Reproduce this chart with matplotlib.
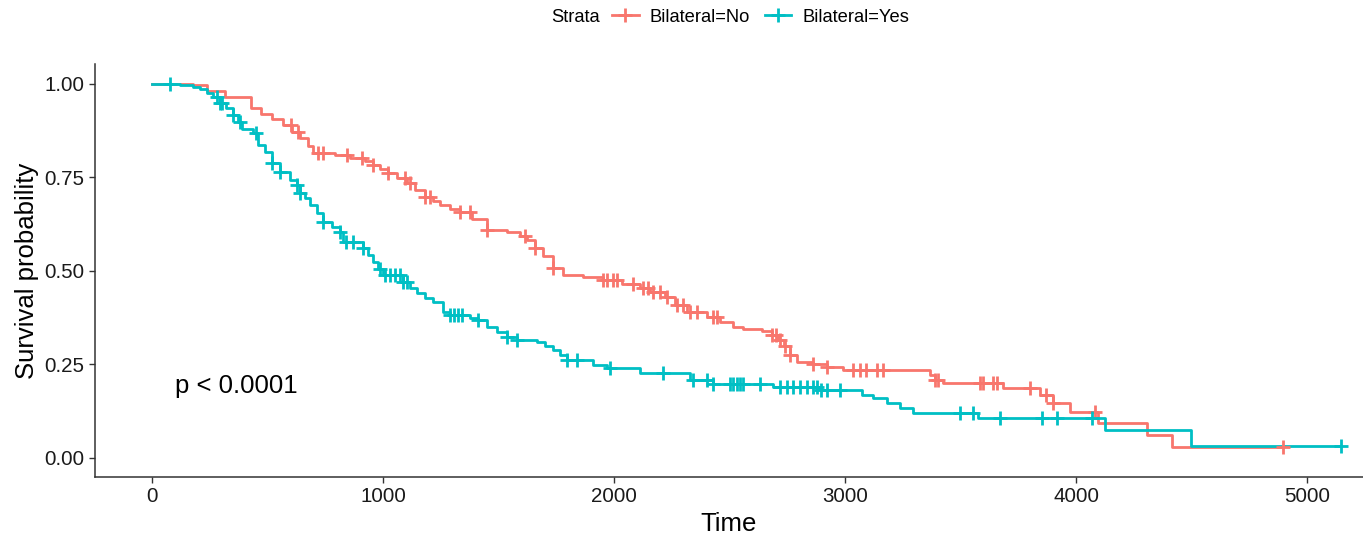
import numpy as np
import matplotlib
matplotlib.use('Agg')
import matplotlib.pyplot as plt
from matplotlib.lines import Line2D

plt.rcParams['font.family'] = ['Liberation Sans', 'DejaVu Sans']

# ===========================
# DADOS
# ===========================
no_times = [0, 177, 238, 316, 429, 472, 519, 567, 606, 641, 675, 697, 792, 857, 922,
            957, 987, 1022, 1061, 1104, 1139, 1182, 1216, 1247, 1290, 1333, 1385, 1450,
            1537, 1593, 1623, 1658, 1693, 1736, 1779, 1866, 1952, 2035, 2113, 2156, 2221,
            2264, 2316, 2403, 2459, 2515, 2558, 2641, 2684, 2710, 2736, 2762, 2792, 2861,
            2922, 2991, 3368, 3390, 3424, 3684, 3844, 3900, 3974, 4095, 4307, 4416, 4896]
no_surv = [1.0, 0.997, 0.982, 0.965, 0.936, 0.920, 0.906, 0.890, 0.872, 0.856, 0.834, 0.816,
           0.810, 0.802, 0.794, 0.783, 0.773, 0.762, 0.749, 0.735, 0.717, 0.698, 0.687,
           0.676, 0.666, 0.658, 0.639, 0.610, 0.604, 0.594, 0.583, 0.561, 0.540, 0.508,
           0.489, 0.484, 0.476, 0.465, 0.455, 0.444, 0.430, 0.409, 0.390, 0.377, 0.364,
           0.350, 0.345, 0.340, 0.329, 0.316, 0.299, 0.275, 0.257, 0.251, 0.243, 0.235,
           0.222, 0.209, 0.201, 0.187, 0.168, 0.147, 0.123, 0.094, 0.061, 0.029, 0.029]
no_censor = [602, 632, 719, 740, 844, 909, 957, 1022, 1095, 1117, 1182, 1203, 1333, 1377,
             1450, 1615, 1658, 1736, 1952, 1970, 1996, 2013, 2082, 2126, 2147, 2169, 2199,
             2229, 2273, 2299, 2329, 2359, 2429, 2446, 2684, 2701, 2719, 2740, 2762, 2861,
             2922, 3035, 3065, 3091, 3139, 3165, 3390, 3403, 3584, 3597, 3641, 3658, 3801,
             3870, 3900, 4082, 4896]

yes_times = [0, 121, 177, 208, 238, 264, 294, 320, 351, 372, 390, 437, 459, 489, 519, 554,
             597, 628, 641, 662, 684, 714, 740, 779, 814, 827, 913, 935, 957, 978, 1000,
             1087, 1117, 1147, 1182, 1216, 1260, 1290, 1377, 1411, 1450, 1494, 1537, 1580,
             1667, 1701, 1736, 1766, 1797, 1909, 1970, 2113, 2329, 2429, 2688, 2892, 3074,
             3121, 3182, 3238, 3294, 3576, 4126, 4498, 5147]
yes_surv = [1.0, 0.997, 0.992, 0.987, 0.976, 0.965, 0.949, 0.936, 0.917, 0.898, 0.880,
            0.869, 0.837, 0.818, 0.789, 0.765, 0.743, 0.730, 0.709, 0.695, 0.676, 0.655,
            0.631, 0.618, 0.604, 0.578, 0.561, 0.543, 0.524, 0.505, 0.489, 0.471, 0.455,
            0.441, 0.428, 0.417, 0.390, 0.382, 0.374, 0.369, 0.350, 0.337, 0.324, 0.316,
            0.310, 0.299, 0.289, 0.275, 0.262, 0.249, 0.241, 0.227, 0.209, 0.198, 0.190,
            0.182, 0.168, 0.160, 0.147, 0.134, 0.120, 0.107, 0.075, 0.032, 0.032]
yes_censor = [78, 281, 294, 303, 351, 381, 450, 519, 554, 628, 641, 740, 814, 840, 870, 913,
              987, 1009, 1030, 1052, 1074, 1087, 1104, 1290, 1307, 1325, 1342, 1411, 1537,
              1580, 1797, 1840, 1983, 2212, 2342, 2403, 2429, 2502, 2515, 2532, 2545, 2558,
              2632, 2719, 2749, 2775, 2805, 2835, 2861, 2879, 2896, 2922, 2978, 3498, 3554,
              3671, 3853, 3918, 4069, 5147]

COR_NO = '#F8766D'
COR_YES = '#00BFC4'
LW = 2.0


def valor_em(times, surv, t):
    idx = np.searchsorted(times, t, side='right') - 1
    return np.asarray(surv)[idx]


fig = plt.figure(figsize=(13.63, 5.45), dpi=100)
ax = fig.add_axes([95 / 1363, 68 / 545, 1 - 95 / 1363, 413 / 545])

for times, surv, cens, cor in [(no_times, no_surv, no_censor, COR_NO),
                               (yes_times, yes_surv, yes_censor, COR_YES)]:
    ax.step(times, surv, where='post', color=cor, lw=LW, zorder=3)
    ax.plot(cens, valor_em(times, surv, cens), ls='none', marker='+', ms=10, mew=2.0,
            color=cor, zorder=4)

ax.text(100, 0.193, 'p < 0.0001', fontsize=18.5, ha='left', va='center', color='black')

ax.set_xlim(-247, 5242)
ax.set_ylim(-0.051, 1.053)
ax.set_xticks([0, 1000, 2000, 3000, 4000, 5000])
ax.set_yticks([0, 0.25, 0.5, 0.75, 1.0])
ax.set_yticklabels(['0.00', '0.25', '0.50', '0.75', '1.00'])
ax.tick_params(labelsize=14.8, colors='#333333', labelcolor='#1a1a1a', length=4, width=1)
ax.set_xlabel('Time', fontsize=18.5, labelpad=4)
ax.set_ylabel('Survival probability', fontsize=18.5, labelpad=4)
for lado in ['top', 'right']:
    ax.spines[lado].set_visible(False)
for lado in ['left', 'bottom']:
    ax.spines[lado].set_color('#333333')
    ax.spines[lado].set_linewidth(1.1)

# legenda no topo
fig.text(551 / 1363, 1 - 17 / 545, 'Strata', fontsize=13.2, ha='left', va='center')
handles = [Line2D([], [], color=COR_NO, lw=LW, marker='+', ms=10, mew=2.0),
           Line2D([], [], color=COR_YES, lw=LW, marker='+', ms=10, mew=2.0)]
fig.legend(handles, ['Bilateral=No', 'Bilateral=Yes'], loc='center left',
           bbox_to_anchor=(612 / 1363, 1 - 17 / 545), ncol=2, frameon=False,
           fontsize=13.2, handlelength=1.45, handletextpad=0.6, columnspacing=0.8,
           borderpad=0, borderaxespad=0)

fig.savefig('out.png', dpi=100)
